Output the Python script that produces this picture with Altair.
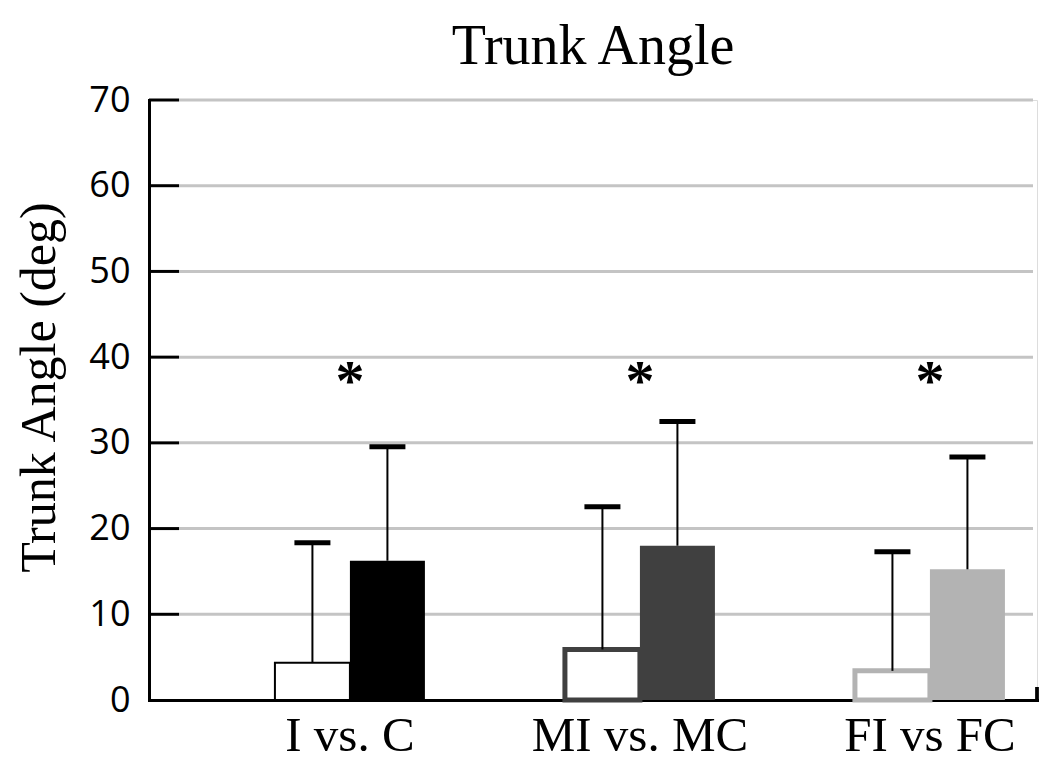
import altair as alt
import pandas as pd

# ---- data ----
groups = ["I vs. C", "MI vs. MC", "FI vs FC"]
subgroups = ["intervention", "control"]
int_mean = [4.35, 5.9, 3.4]
int_upper = [18.35, 22.55, 17.3]
ctl_mean = [16.25, 18.0, 15.25]
ctl_upper = [29.55, 32.5, 28.35]
group_colors = ["#000000", "#404040", "#b3b3b3"]
hollow_stroke_w = [2, 5, 5]
sig_y = [35, 35, 35]
y_ticks = [0, 10, 20, 30, 40, 50, 60, 70]

rows = []
for i, g in enumerate(groups):
    rows.append(dict(group=g, sub="intervention", mean=int_mean[i], upper=int_upper[i],
                     fill="#ffffff", stroke=group_colors[i], sw=hollow_stroke_w[i]))
    rows.append(dict(group=g, sub="control", mean=ctl_mean[i], upper=ctl_upper[i],
                     fill=group_colors[i], stroke=group_colors[i], sw=0))
df = pd.DataFrame(rows)
sig_df = pd.DataFrame({"group": groups, "y": sig_y})
tick_df = pd.DataFrame({"v": y_ticks[1:]})

W, H = 888, 600
SERIF = "Liberation Serif"

xscale = alt.Scale(domain=groups, paddingInner=0.4828, paddingOuter=0.2724,
                   align=0.797, round=False)
xoff = alt.Scale(domain=subgroups, paddingInner=0, paddingOuter=0)
yscale = alt.Scale(domain=[0, 70], nice=False, zero=True)

x_axis = alt.Axis(title=None, ticks=False, tickSize=0, grid=False, domainColor="#000000",
                  domainWidth=3, domainCap="square", labelFont=SERIF, labelFontSize=49,
                  labelColor="#000000", labelPadding=50, labelBaseline="alphabetic", labelAngle=0,
                  labelLimit=0, labelOverlap=False)
y_axis = alt.Axis(values=y_ticks, title="Trunk Angle (deg)", grid=False, ticks=False, tickSize=0,
                  labelPadding=19, labelFont="Open Sans", labelFontSize=36, labelColor="#000000",
                  domainColor="#000000", domainWidth=3, domainCap="square",
                  titleFont=SERIF, titleFontSize=50, titleFontWeight="normal", titleColor="#000000",
                  titleX=-95, titleY=287, titleAngle=-90, titleAlign="center",
                  titleBaseline="alphabetic", titleLimit=0)

X = alt.X("group:N", scale=xscale, axis=x_axis, sort=groups)
XO = alt.XOffset("sub:N", scale=xoff, sort=subgroups)

grid = alt.Chart(tick_df).mark_rule(color="#c4c4c4", strokeWidth=3).encode(
    y=alt.Y("v:Q", scale=yscale, axis=y_axis),
    x=alt.value(30), x2=alt.value(W - 4),
)
ticks = alt.Chart(tick_df).mark_rule(color="#000000", strokeWidth=3).encode(
    y=alt.Y("v:Q", scale=yscale, axis=y_axis),
    x=alt.value(0), x2=alt.value(30),
)

bars = alt.Chart(df).mark_bar().encode(
    x=X, xOffset=XO,
    y=alt.Y("mean:Q", scale=yscale, axis=y_axis),
    fill=alt.Fill("fill:N", scale=None),
    stroke=alt.Stroke("stroke:N", scale=None),
    strokeWidth=alt.StrokeWidth("sw:Q", scale=None),
)

err = alt.Chart(df).mark_rule(color="#000000", strokeWidth=2).encode(
    x=X, xOffset=XO,
    y=alt.Y("mean:Q", scale=yscale, axis=y_axis),
    y2="upper:Q",
)
caps = alt.Chart(df).mark_tick(color="#000000", size=36, thickness=5, opacity=1).encode(
    x=X, xOffset=XO,
    y=alt.Y("upper:Q", scale=yscale, axis=y_axis),
)
stars = alt.Chart(sig_df).mark_text(text="*", font=SERIF, fontSize=58, fontWeight="bold",
                                    color="#000000", baseline="alphabetic", align="center").encode(
    x=X,
    y=alt.Y("y:Q", scale=yscale, axis=y_axis),
)
end_tick = alt.Chart(sig_df).mark_rule(color="#000000", strokeWidth=3).encode(
    x=alt.value(W), y=alt.value(H), y2=alt.value(H - 13),
)

chart = alt.layer(grid, ticks, bars, err, caps, stars, end_tick).properties(
    width=W, height=H,
    title=alt.TitleParams("Trunk Angle", font=SERIF, fontSize=56, fontWeight="normal",
                          color="#000000", anchor="middle", frame="group",
                          baseline="alphabetic", offset=-38),
    autosize=alt.AutoSizeParams(type="none"),
    padding={"left": 141, "top": 92, "right": 5, "bottom": 61},
).configure_view(strokeWidth=0, stroke="transparent").configure(background="#ffffff")

chart.save("out.html", embed_options={"renderer": "svg", "actions": False})
